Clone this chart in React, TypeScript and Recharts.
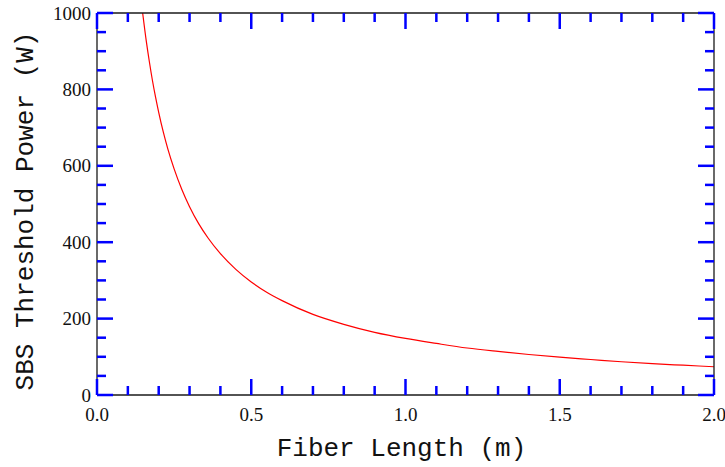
import React from 'react';
import { LineChart, Line, XAxis, YAxis } from 'recharts';

// Fiber length (m) and SBS threshold power (W)
const fiberLength = [0.148, 0.16, 0.17, 0.18, 0.19, 0.2, 0.215, 0.23, 0.25, 0.275, 0.3, 0.33, 0.36, 0.4, 0.45, 0.5, 0.55, 0.6, 0.7, 0.8, 0.9, 1.0, 1.1, 1.2, 1.3, 1.4, 1.5, 1.6, 1.7, 1.8, 1.9, 2.0];
const thresholdPower = [1000, 925, 871, 822, 779, 740, 688, 643, 592, 538, 493, 448, 411, 370, 329, 296, 269, 247, 211, 185, 164, 148, 135, 123, 114, 106, 99, 93, 87, 82, 78, 74];

const xMajorTicks = [0, 0.5, 1.0, 1.5, 2.0];
const xMajorLabels = ['0.0', '0.5', '1.0', '1.5', '2.0'];
const xMinorTicks = [0.1, 0.2, 0.3, 0.4, 0.6, 0.7, 0.8, 0.9, 1.1, 1.2, 1.3, 1.4, 1.6, 1.7, 1.8, 1.9];
const yMajorTicks = [0, 200, 400, 600, 800, 1000];
const yMajorLabels = ['0', '200', '400', '600', '800', '1000'];
const yMinorTicks = [50, 100, 150, 250, 300, 350, 450, 500, 550, 650, 700, 750, 850, 900, 950];

const xTitle = 'Fiber Length (m)';
const yTitle = 'SBS Threshold Power (W)';

const data = fiberLength.map((L, i) => ({ L, P: thresholdPower[i] }));
const xTicks = [...xMajorTicks, ...xMinorTicks].sort((a, b) => a - b);
const yTicks = [...yMajorTicks, ...yMinorTicks].sort((a, b) => a - b);

const FRAME = '#1a1a1a';
const TICK_COLOR = '#0000ff';
const TICK_W = 2.5;
const MAJOR = 16;
const MINOR = 9;
const tickFont = { fontFamily: '"Liberation Serif", "Times New Roman", serif', fontSize: 19, fill: '#111' };
const titleFont = { fontFamily: '"Liberation Mono", "Courier New", monospace', fontSize: 26, fill: '#111' };

const isMajor = (list: number[], v: number) => list.some((m) => Math.abs(m - v) < 1e-9);
const labelOf = (list: number[], labels: string[], v: number) => {
  const i = list.findIndex((m) => Math.abs(m - v) < 1e-9);
  return i >= 0 ? labels[i] : '';
};

const renderBottomTick = (props: any) => {
  const x = Number(props.x);
  const y = Number(props.y);
  const v = props.payload.value;
  const major = isMajor(xMajorTicks, v);
  const len = major ? MAJOR : MINOR;
  return (
    <g>
      <rect x={x - TICK_W / 2} y={y - len} width={TICK_W} height={len} fill={TICK_COLOR} />
      {major && (
        <text x={x} y={y + 26} textAnchor="middle" {...tickFont}>
          {labelOf(xMajorTicks, xMajorLabels, v)}
        </text>
      )}
    </g>
  );
};

const renderTopTick = (props: any) => {
  const x = Number(props.x);
  const y = Number(props.y);
  const len = isMajor(xMajorTicks, props.payload.value) ? MAJOR : MINOR;
  return (
    <g>
      <rect x={x - TICK_W / 2} y={y} width={TICK_W} height={len} fill={TICK_COLOR} />
    </g>
  );
};

const renderLeftTick = (props: any) => {
  const x = Number(props.x);
  const y = Number(props.y);
  const v = props.payload.value;
  const major = isMajor(yMajorTicks, v);
  const len = major ? MAJOR : MINOR;
  return (
    <g>
      <rect x={x} y={y - TICK_W / 2} width={len} height={TICK_W} fill={TICK_COLOR} />
      {major && (
        <text x={x - 6} y={y + 6.5} textAnchor="end" {...tickFont}>
          {labelOf(yMajorTicks, yMajorLabels, v)}
        </text>
      )}
    </g>
  );
};

const renderRightTick = (props: any) => {
  const x = Number(props.x);
  const y = Number(props.y);
  const len = isMajor(yMajorTicks, props.payload.value) ? MAJOR : MINOR;
  return (
    <g>
      <rect x={x - len} y={y - TICK_W / 2} width={len} height={TICK_W} fill={TICK_COLOR} />
    </g>
  );
};

export default function App() {
  return (
    <div style={{ position: 'absolute', left: 0, top: 0, width: 725, height: 467, background: '#fff' }}>
      <LineChart width={725} height={467} data={data} margin={{ top: 12, right: 10, bottom: 71, left: 96 }}>
        <XAxis
          xAxisId="bottom"
          dataKey="L"
          type="number"
          domain={[0, 2]}
          ticks={xTicks}
          interval={0}
          height={1}
          tickSize={0}
          tickMargin={0}
          tickLine={false}
          axisLine={{ stroke: FRAME, strokeWidth: 1.3 }}
          tick={renderBottomTick}
        />
        <XAxis
          xAxisId="top"
          orientation="top"
          dataKey="L"
          type="number"
          domain={[0, 2]}
          ticks={xTicks}
          interval={0}
          height={1}
          tickSize={0}
          tickMargin={0}
          tickLine={false}
          axisLine={{ stroke: FRAME, strokeWidth: 1.3 }}
          tick={renderTopTick}
        />
        <YAxis
          yAxisId="left"
          dataKey="P"
          type="number"
          domain={[0, 1000]}
          ticks={yTicks}
          interval={0}
          width={1}
          tickSize={0}
          tickMargin={0}
          tickLine={false}
          axisLine={{ stroke: FRAME, strokeWidth: 1.3 }}
          tick={renderLeftTick}
        />
        <YAxis
          yAxisId="right"
          orientation="right"
          dataKey="P"
          type="number"
          domain={[0, 1000]}
          ticks={yTicks}
          interval={0}
          width={1}
          tickSize={0}
          tickMargin={0}
          tickLine={false}
          axisLine={{ stroke: FRAME, strokeWidth: 1.3 }}
          tick={renderRightTick}
        />
        <Line
          xAxisId="bottom"
          yAxisId="left"
          dataKey="P"
          type="monotone"
          stroke="#ff0000"
          strokeWidth={1.2}
          dot={false}
          isAnimationActive={false}
        />
      </LineChart>
      <svg width={725} height={467} style={{ position: 'absolute', left: 0, top: 0, pointerEvents: 'none' }}>
        <text x={401.5} y={456} textAnchor="middle" {...titleFont}>
          {xTitle}
        </text>
        <text x={33} y={211} textAnchor="middle" transform="rotate(-90, 33, 211)" {...titleFont}>
          {yTitle}
        </text>
      </svg>
    </div>
  );
}
